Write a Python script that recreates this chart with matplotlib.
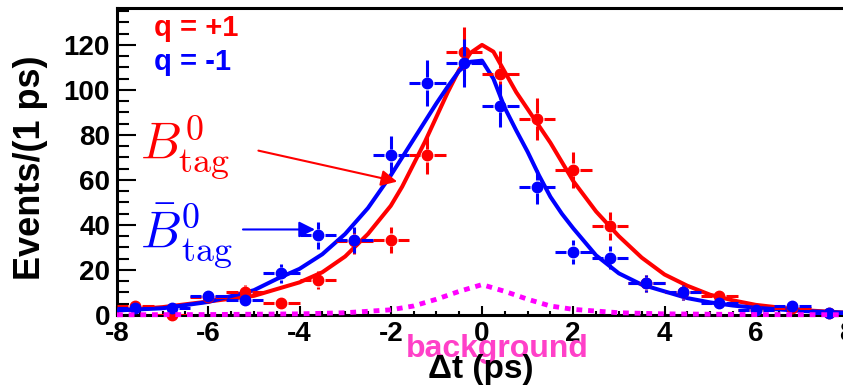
import numpy as np
import matplotlib
matplotlib.use("Agg")
import matplotlib.pyplot as plt
from matplotlib.ticker import MultipleLocator

plt.rcParams['font.family'] = ['Liberation Sans', 'DejaVu Sans']
plt.rcParams['axes.unicode_minus'] = False
plt.rcParams['mathtext.fontset'] = 'cm'

# binned data (bin centres, 0.8 ps wide)
t_bins = [-7.6, -6.8, -6.0, -5.2, -4.4, -3.6, -2.8, -2.0, -1.2, -0.4,
          0.4, 1.2, 2.0, 2.8, 3.6, 4.4, 5.2, 6.0, 6.8, 7.6]
n_plus = [4, 0, 8, 10, 5.5, 15.5, 33, 33.5, 71, 117,
          107, 87, 64.5, 39.5, 14, 10, 8.5, 2, 3, 1]
n_minus = [3, 3, 8.5, 6.5, 18.5, 35.5, 33.5, 71, 103, 112,
           93, 57, 28, 25.5, 14, 10, 5.5, 2, 4, 1]

# fit curves
t_fit = [-8, -7, -6, -5, -4.5, -4, -3.5, -3, -2.5, -2, -1.75, -1.5, -1.25, -1,
         -0.75, -0.5, -0.25, 0, 0.25, 0.5, 0.75, 1, 1.25, 1.5, 1.75, 2, 2.5,
         3, 3.5, 4, 4.5, 5, 5.5, 6, 7, 8]
fit_plus = [2, 3.5, 6, 8.5, 11.5, 14.5, 19, 26, 36, 48.5, 57, 67, 77, 88,
            99, 109, 116.5, 120, 117, 108, 99, 91.5, 84, 76.5, 68, 59.5, 46,
            35, 25.5, 18, 13, 9, 6.5, 4.5, 2.2, 1]
fit_minus = [2, 3, 5.8, 11, 16, 20.5, 27, 36, 47.5, 62, 70, 78, 86, 94,
             101.5, 108.5, 112.5, 113, 105, 92, 82, 72.5, 62, 52.5, 45, 38.5, 26.5,
             18.5, 13.5, 10.5, 7.5, 5.6, 4.2, 3.2, 1.8, 1]

t_bkg = [-8, -6, -4, -3, -2, -1.5, -1, -0.5, 0, 0.5, 1, 1.5, 2, 3, 4, 6, 8]
bkg = [0.1, 0.2, 0.5, 1, 2.3, 4, 7, 10.5, 13.5, 10.5, 7, 4, 2.5, 1, 0.5, 0.2, 0.1]

W, H = 843, 392
fig = plt.figure(figsize=(W / 100, H / 100), dpi=100)
ax = fig.add_axes([117 / W, 77 / H, 730 / W, 307 / H])
ax.set_xlim(-8, 8)
ax.set_ylim(0, 136.4)

ax.plot(t_fit, fit_plus, color='red', lw=2.9, zorder=3)
ax.plot(t_fit, fit_minus, color='blue', lw=2.9, zorder=3)


def draw_points(t, n, col, z):
    t = np.array(t, float)
    n = np.array(n, float)
    e = np.sqrt(n)
    gx, gy, hw = 0.15, 2.9, 0.4
    ax.hlines(n, t - hw, t - gx, color=col, lw=2.2, zorder=z)
    ax.hlines(n, t + gx, t + hw, color=col, lw=2.2, zorder=z)
    m = e > gy
    ax.vlines(t[m], n[m] + gy, n[m] + e[m], color=col, lw=2.2, zorder=z)
    ax.vlines(t[m], n[m] - e[m], n[m] - gy, color=col, lw=2.2, zorder=z)
    ax.plot(t, n, 'o', color=col, ms=7.5, clip_on=False, zorder=z)


draw_points(t_bins, n_plus, 'red', 4)
draw_points(t_bins, n_minus, 'blue', 5)

ax.plot(t_bkg, bkg, color='#ff00ff', lw=3.5, ls=(0, (1.2, 1.2)),
        clip_on=False, zorder=10)

# labels and arrows
ax.text(-7.2, 127.6, 'q = +1', color='red', fontsize=21, va='center',
        fontweight='bold')
ax.text(-7.2, 112.4, 'q = -1', color='blue', fontsize=21, va='center',
        fontweight='bold')
ax.text(-7.5, 69, r'$B^0_{\rm tag}$', color='red', fontsize=37, va='baseline')
ax.text(-7.5, 30, r'$\bar{B}^0_{\rm tag}$', color='blue', fontsize=37, va='baseline')
ax.annotate('', xy=(-1.8, 59), xytext=(-4.96, 73.3),
            arrowprops=dict(arrowstyle='-|>', color='red', lw=1.5, mutation_scale=24))
ax.annotate('', xy=(-3.6, 38), xytext=(-5.3, 38),
            arrowprops=dict(arrowstyle='-|>', color='blue', lw=1.5, mutation_scale=24))
ax.text(0.33, -18.7, 'background', color='#ff40c8', fontsize=23,
        ha='center', va='baseline', clip_on=False, fontweight='bold')

for s in ['left', 'bottom', 'top', 'right']:
    ax.spines[s].set_linewidth(2.2)
ax.xaxis.set_major_locator(MultipleLocator(2))
ax.xaxis.set_minor_locator(MultipleLocator(0.5))
ax.yaxis.set_major_locator(MultipleLocator(20))
ax.yaxis.set_minor_locator(MultipleLocator(5))
ax.tick_params(axis='x', which='major', direction='in', length=6.5, width=1.5,
               labelsize=20, pad=4)
ax.tick_params(axis='x', which='minor', direction='in', length=3, width=1.5)
ax.tick_params(axis='y', which='major', direction='in', length=14, width=1.5,
               labelsize=20, pad=5)
ax.tick_params(axis='y', which='minor', direction='in', length=8.5, width=1.5)
for lab in ax.get_xticklabels() + ax.get_yticklabels():
    lab.set_fontweight('bold')

fig.text(31 / W, 1 - 55 / H, 'Events/(1 ps)', rotation=90, fontsize=26,
         ha='center', va='top', fontweight='bold')
fig.text(481 / W, 1 - 378 / H, 'Δt (ps)', fontsize=24,
         ha='center', va='baseline', fontweight='bold')

fig.savefig('out.png', dpi=100)
